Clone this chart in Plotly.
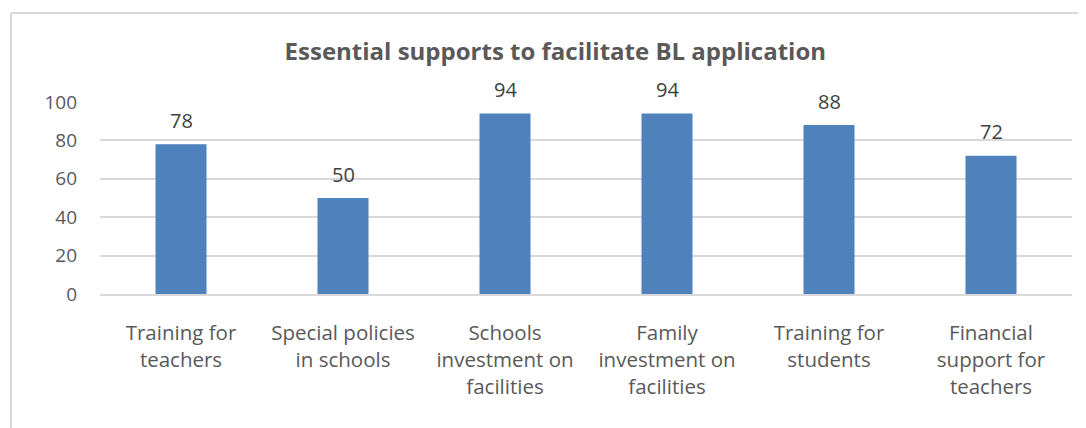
import plotly.graph_objects as go

categories = ["Training for<br>teachers", "Special policies<br>in schools", "Schools<br>investment on<br>facilities",
              "Family<br>investment on<br>facilities", "Training for<br>students", "Financial<br>support for<br>teachers"]
values = [78, 50, 94, 94, 88, 72]
y_ticks = [0, 20, 40, 60, 80, 100]

FONT = "Open Sans"
GRAY = "#595959"

fig = go.Figure(go.Bar(
    x=categories, y=values,
    marker=dict(color="#4F81BD", line=dict(width=0)),
))

for c, v in zip(categories, values):
    fig.add_annotation(x=c, y=v, text=str(v), showarrow=False, yanchor="middle", yshift=24,
                       font=dict(family=FONT, size=20, color="#404040"))

# page has an 8px body margin; margins compensate so the plot lands where the reference has it
fig.update_layout(
    width=1086, height=428,
    margin=dict(l=92, r=22, t=94, b=142, autoexpand=False),
    paper_bgcolor="white", plot_bgcolor="white",
    bargap=0.685,
    showlegend=False,
    title=dict(text="<b>Essential supports to facilitate BL application</b>",
               font=dict(family=FONT, size=24, color=GRAY),
               x=0.504, xanchor="center", y=0.897, yanchor="middle"),
    font=dict(family=FONT, size=20, color=GRAY),
)
fig.update_xaxes(showgrid=False, showline=True, linecolor="#d9d9d9", linewidth=1.5, automargin=False,
                 tickfont=dict(family=FONT, size=20.5, color=GRAY), ticks="", ticklabelstandoff=20)
fig.update_yaxes(range=[0, 100], tickvals=y_ticks, showgrid=True, gridcolor="#d9d9d9", gridwidth=1.5,
                 zeroline=False, showline=False, ticks="", automargin=False,
                 tickfont=dict(family=FONT, size=19, color=GRAY), ticklabelstandoff=22)

# chart frame (top and left edges visible)
top = 1 + 89 / 192
left = -89 / 972
fig.add_shape(type="line", xref="paper", yref="paper", x0=left, x1=1.03, y0=top, y1=top,
              line=dict(color="#d9d9d9", width=2))
fig.add_shape(type="line", xref="paper", yref="paper", x0=left, x1=left, y0=top, y1=-0.8,
              line=dict(color="#d9d9d9", width=2))

fig.write_html("out.html")
